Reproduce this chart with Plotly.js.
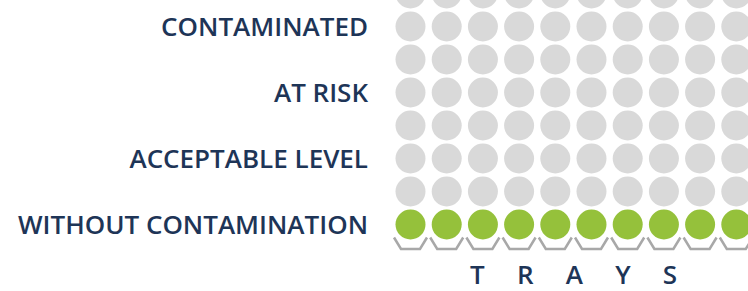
<!DOCTYPE html>
<html>
<head>
<meta charset="utf-8">
<script src="https://cdn.plot.ly/plotly-3.0.1.min.js"></script>
<style>html,body{margin:0;padding:0;background:#fff;}#chart{width:748px;height:291px;}</style>
</head>
<body>
<div id="chart"></div>
<script>
// ---- data ----
const trays = [1, 2, 3, 4, 5, 6, 7, 8, 9, 10];
const levelRows = [0, 1, 2, 3, 4, 5, 6, 7];
const levelTickRows = [0, 2, 4, 6];
const levelLabels = ["WITHOUT CONTAMINATION", "ACCEPTABLE LEVEL", "AT RISK", "CONTAMINATED"];
const trayLevel = [0, 0, 0, 0, 0, 0, 0, 0, 0, 0]; // current level (row) of each tray
const axisTitle = "TRAYS";

// ---- styles ----
const NAVY = "#1e3557";
const GREEN = "#95c13b";
const GREY = "#d9d9d9";
const TRAY = "#a8a8a8";
const FONT = "Open Sans, Liberation Sans, Arial, sans-serif";

// geometry (pixel design) -> axis ranges
const W = 748, H = 291;
const mL = 380, mB = 35;
const colPx = 36.2, rowPx = 33;
const firstColPx = 410.5, baseRowPx = 224.5;
const xr0 = 1 - (firstColPx - mL) / colPx;
const xr1 = xr0 + (W - mL) / colPx;
const plotH = H - mB;
const yr0 = -(plotH - baseRowPx) / rowPx;
const yr1 = baseRowPx / rowPx;

// grid dots
const gx = [], gy = [], gc = [];
trays.forEach((t, i) => {
  levelRows.forEach(r => {
    gx.push(t); gy.push(r);
    gc.push(r === trayLevel[i] ? GREEN : GREY);
  });
});

// tray outlines (offsets relative to each tray's base cell, in axis units)
const tox = [-16.5 / colPx, -9.5 / colPx, 9.5 / colPx, 16.5 / colPx];
const toy = [-13 / rowPx, -24.5 / rowPx, -24.5 / rowPx, -13 / rowPx];
const tx = [], ty = [];
trays.forEach(t => {
  tox.forEach((o, k) => { tx.push(t + o); ty.push(levelRows[0] + toy[k]); });
  tx.push(null); ty.push(null);
});

const data = [
  {x: tx, y: ty, type: "scatter", mode: "lines",
   line: {color: TRAY, width: 2.5}, hoverinfo: "skip"},
  {x: gx, y: gy, type: "scatter", mode: "markers",
   marker: {size: 30, color: gc, line: {width: 0}}, hoverinfo: "skip"}
];

const GAP = "\u00a0\u00a0\u00a0\u00a0\u200a\u200a";
const layout = {
  width: W, height: H,
  margin: {l: mL, r: 0, t: 0, b: mB, pad: 0},
  paper_bgcolor: "#ffffff", plot_bgcolor: "#ffffff",
  showlegend: false,
  xaxis: {
    range: [xr0, xr1], showgrid: false, zeroline: false, showline: false,
    showticklabels: false, ticks: "", fixedrange: true, automargin: false
  },
  yaxis: {
    range: [yr0, yr1], showgrid: false, zeroline: false, showline: false,
    tickvals: levelTickRows, ticktext: levelLabels, ticks: "",
    ticklabelstandoff: 11,
    tickfont: {family: FONT, size: 26, color: NAVY, weight: 600},
    fixedrange: true, automargin: false
  },
  annotations: [{
    text: axisTitle.split("").join(GAP),
    xref: "x", yref: "paper",
    x: (trays[0] + trays[trays.length - 1]) / 2, y: 0,
    xanchor: "center", yanchor: "top", yshift: 2, showarrow: false,
    font: {family: FONT, size: 26, color: NAVY, weight: 600}
  }]
};

Plotly.newPlot("chart", data, layout, {displayModeBar: false, staticPlot: true});
</script>
</body>
</html>
